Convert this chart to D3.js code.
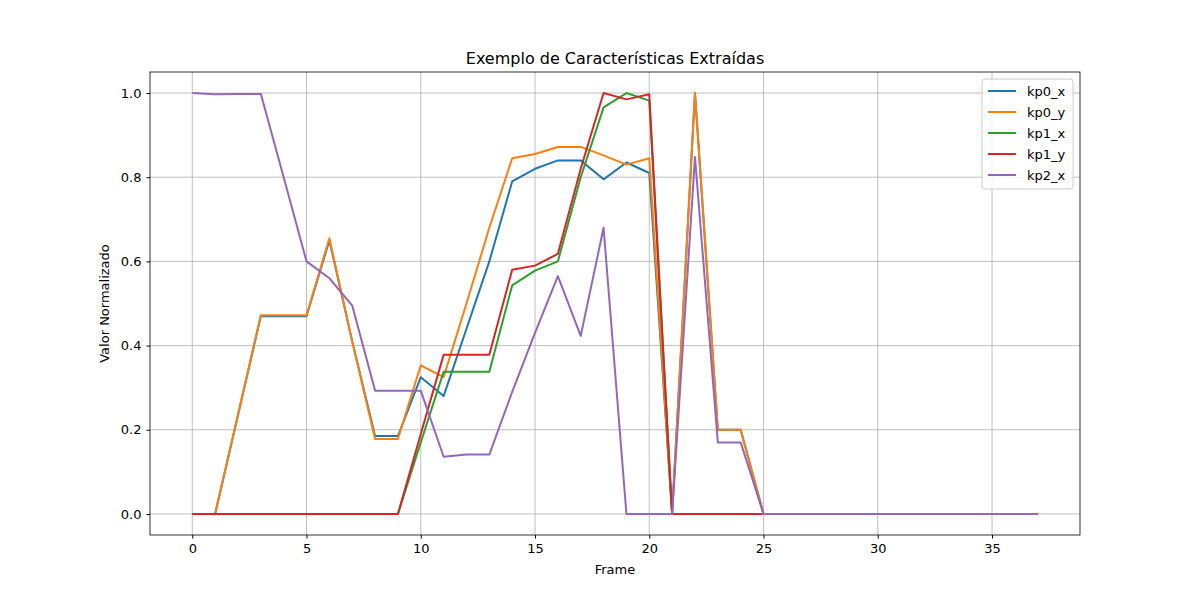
<!DOCTYPE html>
<html><head><meta charset="utf-8">
<script src="https://cdn.jsdelivr.net/npm/d3@7"></script>
<style>body{margin:0;background:#fff}text{font-family:"DejaVu Sans",sans-serif}</style>
</head><body><svg width="1200" height="600"></svg>
<script>
const frames = d3.range(0, 38);
const kp0_x = [0,0,0.235,0.47,0.47,0.47,0.65,0.41,0.185,0.185,0.325,0.28,0.44,0.6,0.79,0.82,0.84,0.84,0.795,0.835,0.81,0,1.0,0.2,0.2,0,0,0,0,0,0,0,0,0,0,0,0,0];
const kp0_y = [0,0,0.235,0.472,0.472,0.472,0.655,0.41,0.178,0.178,0.353,0.325,0.5,0.68,0.845,0.855,0.872,0.872,0.852,0.83,0.845,0,1.0,0.2,0.2,0,0,0,0,0,0,0,0,0,0,0,0,0];
const kp1_x = [0,0,0,0,0,0,0,0,0,0,0.17,0.338,0.338,0.338,0.543,0.578,0.6,0.8,0.966,1.0,0.982,0,0,0,0,0,0,0,0,0,0,0,0,0,0,0,0,0];
const kp1_y = [0,0,0,0,0,0,0,0,0,0,0.19,0.378,0.378,0.378,0.58,0.59,0.618,0.82,1.0,0.985,0.997,0,0,0,0,0,0,0,0,0,0,0,0,0,0,0,0,0];
const kp2_x = [1.0,0.997,0.998,0.998,0.8,0.6,0.56,0.495,0.293,0.293,0.293,0.136,0.141,0.141,0.29,0.43,0.565,0.423,0.68,0,0,0,0.848,0.17,0.17,0,0,0,0,0,0,0,0,0,0,0,0,0];
const seriesNames = ["kp0_x","kp0_y","kp1_x","kp1_y","kp2_x"];
const seriesValues = [kp0_x, kp0_y, kp1_x, kp1_y, kp2_x];
const colors = ["#1f77b4","#ff7f0e","#2ca02c","#d62728","#9467bd"];
const xTicks = [0,5,10,15,20,25,30,35];
const yTicks = [0,0.2,0.4,0.6,0.8,1.0];

const svg = d3.select("svg");
const margin = {top: 72, right: 120, bottom: 65, left: 150};
const innerWidth = 1200 - margin.left - margin.right;
const innerHeight = 600 - margin.top - margin.bottom;

const g = svg.append("g").attr("transform", `translate(${margin.left}, ${margin.top})`);

const xScale = d3.scaleLinear().domain([-1.85, 38.85]).range([0, innerWidth]);
const yScale = d3.scaleLinear().domain([-0.05, 1.05]).range([innerHeight, 0]);

// grid
g.append("g").selectAll("line").data(xTicks).join("line")
  .attr("x1", d => xScale(d)).attr("x2", d => xScale(d))
  .attr("y1", 0).attr("y2", innerHeight).attr("stroke", "#b0b0b0").attr("stroke-width", 0.8);
g.append("g").selectAll("line").data(yTicks).join("line")
  .attr("y1", d => yScale(d)).attr("y2", d => yScale(d))
  .attr("x1", 0).attr("x2", innerWidth).attr("stroke", "#b0b0b0").attr("stroke-width", 0.8);

const xAxis = d3.axisBottom(xScale).tickValues(xTicks).tickFormat(d3.format("d")).tickSizeOuter(0).tickSize(3.5).tickPadding(5);
const yAxis = d3.axisLeft(yScale).tickValues(yTicks).tickFormat(d3.format(".1f")).tickSizeOuter(0).tickSize(3.5).tickPadding(5);
g.append("g").attr("transform", `translate(0, ${innerHeight})`).call(xAxis)
  .call(s => s.select(".domain").remove()).selectAll("text").attr("font-size", 13).attr("fill", "#000");
g.append("g").call(yAxis)
  .call(s => s.select(".domain").remove()).selectAll("text").attr("font-size", 13).attr("fill", "#000");

const line = d3.line().x((d, i) => xScale(frames[i])).y(d => yScale(d));
seriesValues.forEach((vals, i) => {
  g.append("path").datum(vals).attr("d", line)
    .attr("fill", "none").attr("stroke", colors[i]).attr("stroke-width", 2)
    .attr("stroke-linejoin", "round");
});

g.append("rect").attr("width", innerWidth).attr("height", innerHeight)
  .attr("fill", "none").attr("stroke", "#000").attr("stroke-width", 0.8);

svg.append("text").attr("x", margin.left + innerWidth / 2).attr("y", 64)
  .attr("text-anchor", "middle").attr("font-size", 16).text("Exemplo de Características Extraídas");
svg.append("text").attr("x", margin.left + innerWidth / 2).attr("y", 574)
  .attr("text-anchor", "middle").attr("font-size", 13).text("Frame");
svg.append("text").attr("transform", `translate(109, ${margin.top + innerHeight / 2}) rotate(-90)`)
  .attr("text-anchor", "middle").attr("font-size", 13).text("Valor Normalizado");

// legend
const lg = svg.append("g").attr("transform", "translate(982, 79)");
lg.append("rect").attr("width", 91).attr("height", 110).attr("rx", 3)
  .attr("fill", "#fff").attr("fill-opacity", 0.8).attr("stroke", "#ccc");
seriesNames.forEach((n, i) => {
  const y = 12 + i * 21;
  lg.append("line").attr("x1", 6).attr("x2", 34).attr("y1", y).attr("y2", y)
    .attr("stroke", colors[i]).attr("stroke-width", 2);
  lg.append("text").attr("x", 45).attr("y", y + 4.5).attr("font-size", 13).text(n);
});
</script></body></html>
